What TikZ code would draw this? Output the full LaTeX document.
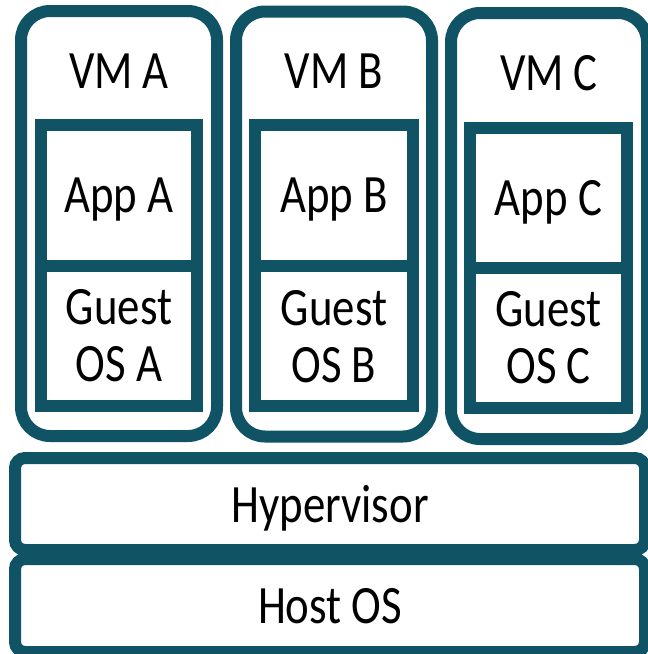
\documentclass[tikz,border=0pt]{standalone}
\usepackage{fontspec}
\setmainfont[FakeStretch=0.83]{Carlito}
\usepackage{xcolor}
\definecolor{vmteal}{RGB}{16,83,101}

\begin{document}
\begin{tikzpicture}[x=0.5pt,y=-0.5pt,
  every node/.style={font=\fontsize{27}{28.5}\selectfont},
  vmbox/.style={draw=vmteal, line width=6pt, rounded corners=14.5pt, minimum width=98pt, minimum height=212.5pt, inner sep=0pt},
  layer/.style={draw=vmteal, line width=6pt, minimum width=78pt, minimum height=70.25pt, inner sep=0pt, text depth=0pt, align=center},
  base/.style={draw=vmteal, line width=6pt, rounded corners=5pt, minimum width=315pt, minimum height=46pt, inner sep=0pt, text depth=0pt}]
\useasboundingbox (0,0) rectangle (648,654);
% virtual machines
\node[vmbox] (vmA) at (119,223.5) {};
\node[vmbox] (vmB) at (334,224) {};
\node[vmbox, minimum height=213pt] (vmC) at (549,226) {};
\node (vmAlabel) at (119,71) {VM A};
\node (vmBlabel) at (334,71) {VM B};
\node (vmClabel) at (549,73) {VM C};
% apps and guest systems
\node[layer, minimum height=70.5pt] (appA) at (119,195.5) {App A};
\node[layer, minimum width=79pt, minimum height=70.5pt] (appB) at (334,195.5) {App B};
\node[layer, minimum width=78.5pt, minimum height=69.75pt] (appC) at (548.5,197.75) {App C};
\node[layer] (guestA) at (119,335.75) {Guest\\OS A};
\node[layer, minimum width=79pt, minimum height=70pt] (guestB) at (334,336) {Guest\\OS B};
\node[layer, minimum width=78.5pt] (guestC) at (548.5,337.75) {Guest\\OS C};
% host layers
\node[base] (hyper) at (330,504) {Hypervisor};
\node[base, minimum height=46.5pt] (host) at (330,605.5) {Host OS};
\end{tikzpicture}
\end{document}
